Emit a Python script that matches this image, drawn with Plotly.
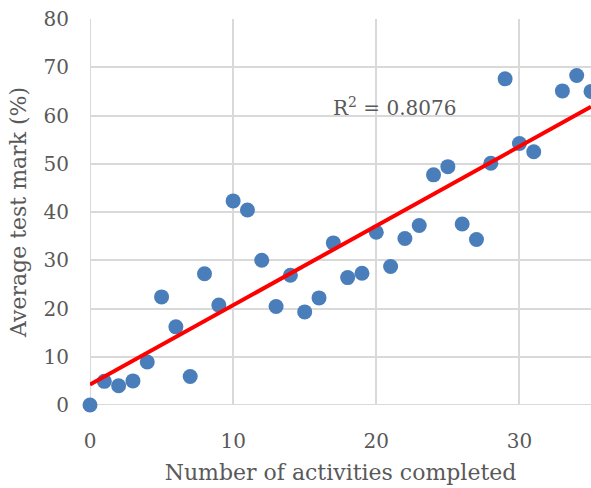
import numpy as np
import plotly.graph_objects as go

activities = [0, 1, 2, 3, 4, 5, 6, 7, 8, 9, 10, 11, 12, 13, 14, 15, 16, 17, 18, 19,
              20, 21, 22, 23, 24, 25, 26, 27, 28, 29, 30, 31, 33, 34, 35]
marks = [0, 4.9, 4.0, 5.0, 8.9, 22.4, 16.2, 5.9, 27.2, 20.7, 42.3, 40.4, 30.0, 20.4,
         26.9, 19.3, 22.2, 33.6, 26.4, 27.3, 35.8, 28.7, 34.5, 37.2, 47.7, 49.4,
         37.5, 34.3, 50.1, 67.6, 54.2, 52.5, 65.1, 68.3, 65.0]
r2_label = "R<sup>2</sup> = 0.8076"
x_title = "Number of activities completed"
y_title = "Average test mark (%)"

slope, intercept = np.polyfit(activities, marks, 1)
line_x = [0, 35]
line_y = [intercept + slope * v for v in line_x]

FONT = "DejaVu Serif, serif"
GREY = "#595959"
GRID = "#d9d9d9"

fig = go.Figure()
fig.add_trace(go.Scatter(x=activities, y=marks, mode="markers", cliponaxis=False,
                         marker=dict(size=15, color="#4a7ebb", line=dict(width=0)),
                         showlegend=False))
fig.add_trace(go.Scatter(x=line_x, y=line_y, mode="lines",
                         line=dict(color="#ff0000", width=4), showlegend=False))

fig.add_annotation(x=16.85, y=61.8, xref="x", yref="y", text=r2_label, showarrow=False,
                   xanchor="left", yanchor="middle",
                   font=dict(family=FONT, size=20, color=GREY))

fig.update_layout(
    width=591, height=488,
    margin=dict(l=90, r=0, t=19, b=83),
    paper_bgcolor="white", plot_bgcolor="white",
    font=dict(family=FONT, size=20, color=GREY),
)
fig.update_xaxes(range=[0, 35], tickvals=[0, 10, 20, 30], showgrid=True,
                 gridcolor=GRID, gridwidth=2, zeroline=False, showline=False,
                 ticks="", ticklabelstandoff=22,
                 title=dict(text=x_title, standoff=12, font=dict(size=22)))
fig.update_yaxes(range=[0, 80], dtick=10, showgrid=True, gridcolor=GRID, gridwidth=2,
                 zeroline=False, showline=False, ticks="", ticklabelstandoff=20,
                 title=dict(text=y_title, standoff=10, font=dict(size=22)))
fig.add_shape(type="line", xref="x", yref="y", x0=0, x1=35, y0=0, y1=0,
              line=dict(color=GRID, width=2), layer="below")
fig.add_shape(type="line", xref="x", yref="y", x0=0, x1=0, y0=0, y1=80,
              line=dict(color=GRID, width=2), layer="below")

fig.write_html("out.html", config={"displayModeBar": False},
               post_script="document.body.style.margin='0';")
